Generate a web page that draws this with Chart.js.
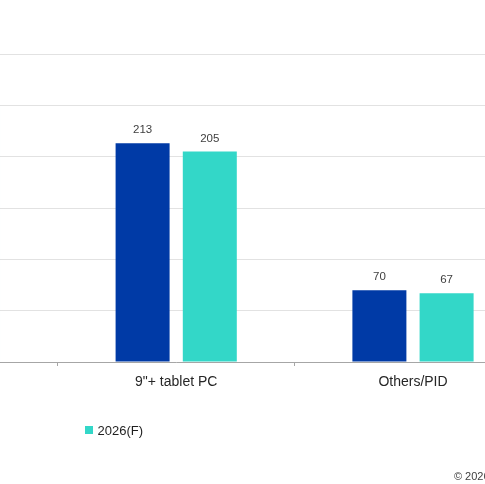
<!DOCTYPE html>
<html>
<head>
<meta charset="utf-8">
<script src="https://cdn.jsdelivr.net/npm/chart.js@4.4.1/dist/chart.umd.min.js"></script>
<style>
  html, body { margin: 0; padding: 0; background: #fff; overflow: hidden; width: 485px; height: 484px; }
  #chartWrap { position: absolute; top: 0; left: -179px; height: 484px; }
  #legend {
    position: absolute; top: 422px; right: 342px; margin: 0; padding: 0;
    list-style: none; display: flex; gap: 100px;
    font: 13px "Liberation Sans", Arial, sans-serif; color: #1f1f1f;
  }
  #legend li { display: flex; align-items: center; height: 16px; white-space: nowrap; }
  #legend .swatch { width: 8px; height: 8px; margin-right: 4px; }
</style>
</head>
<body>
<div id="chartWrap"><canvas id="shipmentChart"></canvas></div>
<ul id="legend"></ul>
<script>
// Values (units as on the hidden y axis)
const categories = ['', '9"+ tablet PC', 'Others/PID'];
const seriesNames = ['2025', '2026(F)'];
const values2025 = [null, 213, 70];
const values2026F = [250, 205, 67];
const yTicks = [0, 50, 100, 150, 200, 250, 300];
const copyrightText = '© 2026 TrendForce Corp.';

const FONT = '"Liberation Sans", Arial, sans-serif';
const WRAP_LEFT = 179;
const CATEGORY_WIDTH = 236.8;
const PLOT_WIDTH = CATEGORY_WIDTH * categories.length;

// size the wrapper so the copyright line starts where it does in the picture
const measureCtx = document.createElement('canvas').getContext('2d');
measureCtx.font = '11px ' + FONT;
const copyrightWidth = measureCtx.measureText(copyrightText).width;
const wrapWidth = Math.round(WRAP_LEFT + 454 + copyrightWidth);
const rightGutter = wrapWidth - PLOT_WIDTH;
document.getElementById('chartWrap').style.width = wrapWidth + 'px';

const barValueLabels = {
    id: 'barValueLabels',
    afterDatasetsDraw(chart) {
        const ctx = chart.ctx;
        ctx.save();
        ctx.font = '11.5px ' + FONT;
        ctx.fillStyle = '#404040';
        ctx.textAlign = 'center';
        ctx.textBaseline = 'middle';
        chart.data.datasets.forEach((dataset, i) => {
            chart.getDatasetMeta(i).data.forEach((bar, j) => {
                const value = dataset.data[j];
                if (value === null || value === undefined) return;
                ctx.fillText(String(value), bar.x, bar.y - 13);
            });
        });
        ctx.restore();
    }
};

const htmlLegend = {
    id: 'htmlLegend',
    afterUpdate(chart) {
        const list = document.getElementById('legend');
        list.innerHTML = '';
        const items = chart.options.plugins.legend.labels.generateLabels(chart);
        items.forEach((item) => {
            const li = document.createElement('li');
            const box = document.createElement('span');
            box.className = 'swatch';
            box.style.background = item.fillStyle;
            const text = document.createElement('span');
            text.textContent = item.text;
            li.append(box, text);
            list.appendChild(li);
        });
    }
};

const ctx = document.getElementById('shipmentChart').getContext('2d');
new Chart(ctx, {
    type: 'bar',
    data: {
        labels: categories,
        datasets: [
            {
                label: seriesNames[0],
                data: values2025,
                backgroundColor: '#003aa6',
                categoryPercentage: 0.5676,
                barPercentage: 0.8036,
            },
            {
                label: seriesNames[1],
                data: values2026F,
                backgroundColor: '#33d7c8',
                categoryPercentage: 0.5676,
                barPercentage: 0.8036,
            }
        ]
    },
    options: {
        responsive: true,
        maintainAspectRatio: false,
        animation: false,
        layout: { padding: { top: 54, left: 0, right: 0, bottom: 0 } },
        plugins: {
            legend: { display: false },
            tooltip: { enabled: false },
            subtitle: {
                display: true,
                text: copyrightText,
                position: 'bottom',
                align: 'end',
                color: '#404040',
                font: { family: FONT, size: 11 },
                padding: { top: 0, bottom: 0.2 }
            }
        },
        scales: {
            x: {
                grid: {
                    offset: true,
                    drawOnChartArea: false,
                    drawTicks: true,
                    tickLength: 4,
                    color: '#a6a6a6'
                },
                border: { display: true, color: '#a6a6a6', width: 1 },
                ticks: {
                    color: '#262626',
                    font: { family: FONT, size: 14 },
                    padding: 8,
                    maxRotation: 0,
                    autoSkip: false
                },
                afterFit(scale) { scale.height = 470.6 - 362; }
            },
            y: {
                position: 'right',
                min: 0,
                max: 300,
                afterBuildTicks(scale) { scale.ticks = yTicks.map((v) => ({ value: v })); },
                grid: { color: '#e2e2e2', lineWidth: 1, drawTicks: false },
                border: { display: false },
                ticks: { display: false },
                afterFit(scale) { scale.width = rightGutter; }
            }
        }
    },
    plugins: [barValueLabels, htmlLegend]
});
</script>
</body>
</html>
